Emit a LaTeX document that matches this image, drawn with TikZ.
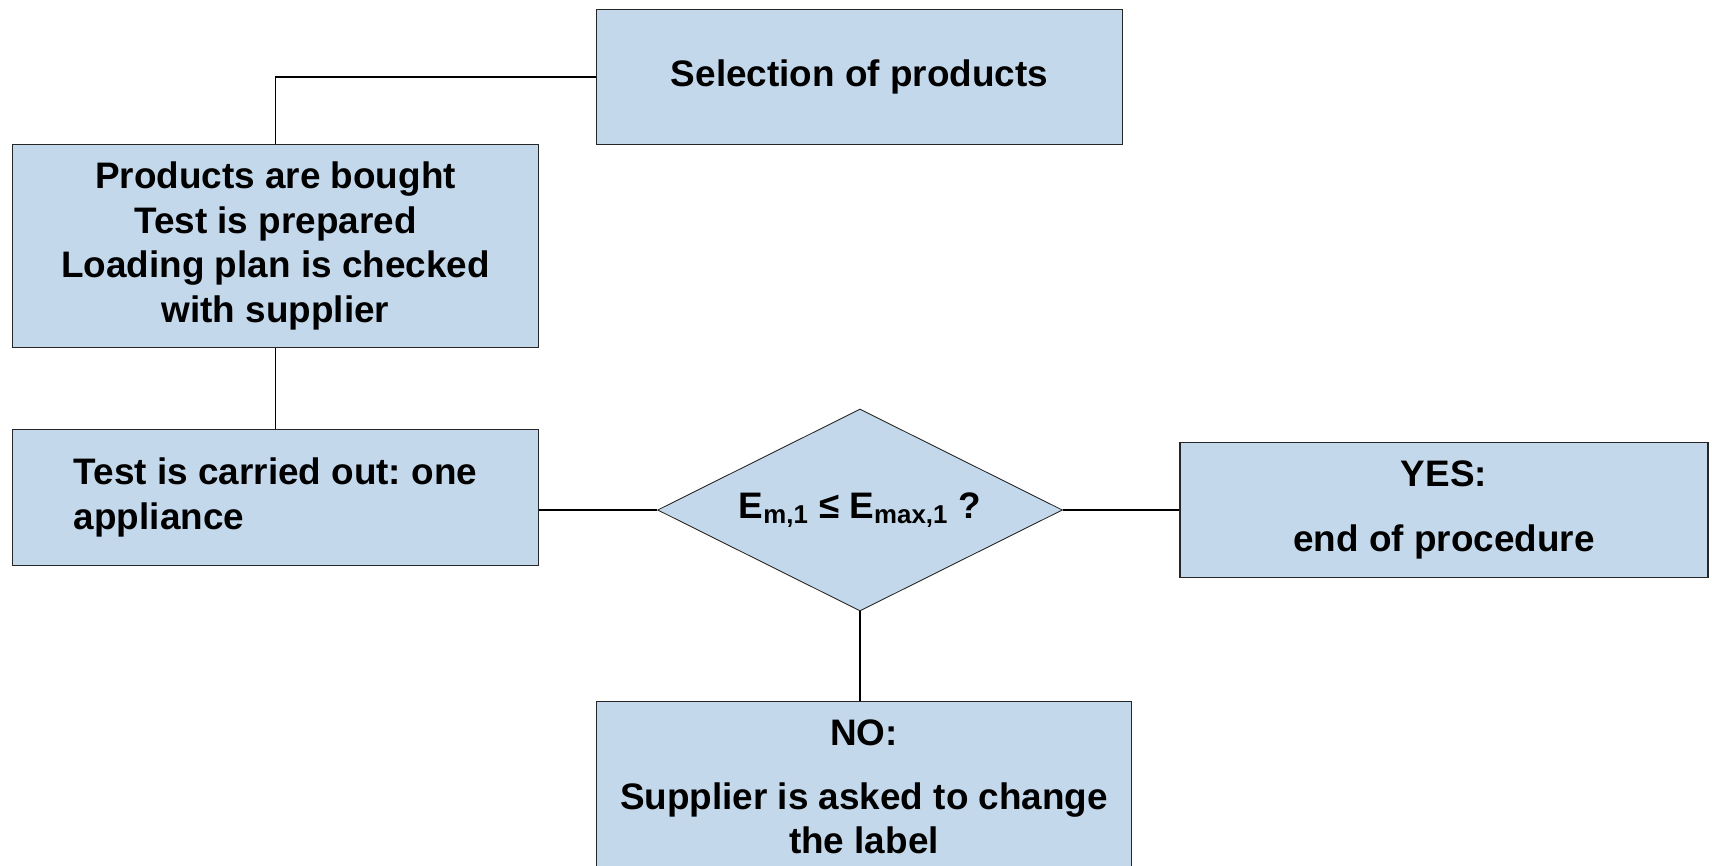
\documentclass[tikz,border=0pt]{standalone}
\usepackage{xcolor}
\usepackage{fontspec}
\setmainfont{Liberation Sans}
\usepackage{tikz}
\usetikzlibrary{shapes.geometric}
\definecolor{boxblue}{HTML}{C4D8EB}
\frenchspacing

\begin{document}
\begin{tikzpicture}[x=0.02cm, y=-0.02cm,
		box/.style={rectangle, draw=black!85, line width=0.6pt, fill=boxblue, minimum width=10.54cm, align=center, font=\fontsize{21}{25.3}\selectfont\bfseries},
		decision/.style={diamond, aspect=2, draw=black!85, line width=0.5pt, fill=boxblue, inner sep=0pt, minimum width=8.1cm, minimum height=4.04cm, font=\fontsize{21}{25.3}\selectfont\bfseries},
		link/.style={draw=black, line width=0.7pt}
	]
		\useasboundingbox (0,0) rectangle (1712,866);
		
		% Boxes
		\node[box, minimum height=2.7cm] (select) at (859.5,77) {Selection of products};
		\node[box, minimum height=4.06cm] (bought) at (275.5,246) {Products are bought\\Test is prepared\\Loading plan is checked\\with supplier};
		\node[box, minimum height=2.72cm, align=left] (test) at (275.5,497.5) {Test is carried out: one\\appliance};
		\node[decision] (check) at (860,510) {E\textsubscript{m,1} ≤ E\textsubscript{max,1} ?};
		\node[box, minimum width=10.56cm, minimum height=2.7cm, line width=1.1pt] (yes) at (1444,510) {YES:\\[12pt]end of procedure};
		\node[box, minimum width=10.72cm, minimum height=3.42cm] (no) at (864,787) {NO:\\[11pt]Supplier is asked to change\\the label};
		
		% Connectors
		\draw[link] (select.west) -| (bought.north);
		\draw[link] (bought.south) -- (test.north);
		\draw[link] (test.east |- check.west) -- (check.west);
		\draw[link] (check.east) -- (check.east -| yes.west);
		\draw[link] (check.south) -- (check.south |- no.north);
	\end{tikzpicture}
\end{document}
